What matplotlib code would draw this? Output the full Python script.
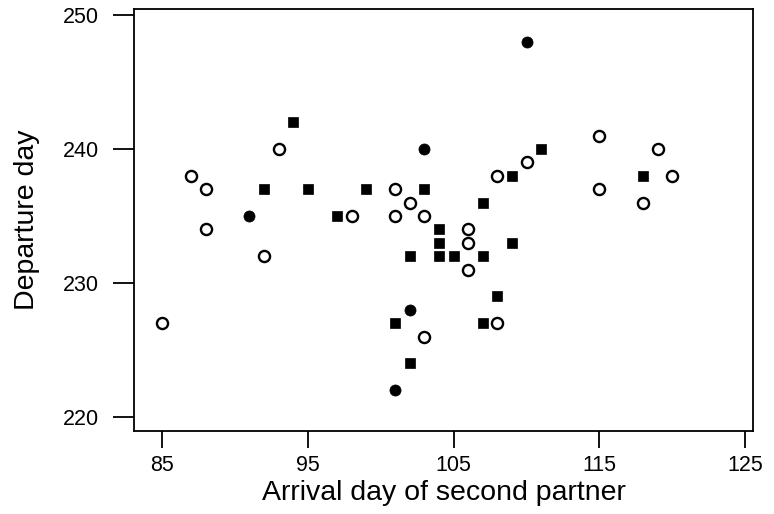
import matplotlib
matplotlib.use("Agg")
import matplotlib.pyplot as plt

# Open circles
open_x = [85, 87, 88, 88, 92, 93, 98, 101, 101, 102, 103, 103, 106, 106, 106,
          108, 108, 110, 115, 115, 118, 119, 120]
open_y = [227, 238, 237, 234, 232, 240, 235, 237, 235, 236, 235, 226, 234, 233, 231,
          238, 227, 239, 241, 237, 236, 240, 238]

# Filled squares
sq_x = [92, 94, 95, 97, 99, 101, 102, 102, 103, 104, 104, 104, 105,
        107, 107, 107, 108, 109, 109, 111, 118]
sq_y = [237, 242, 237, 235, 237, 227, 232, 224, 237, 234, 233, 232, 232,
        236, 232, 227, 229, 238, 233, 240, 238]

# Filled circles (overlapping / larger filled marks)
fc_x = [91, 101, 102, 103, 110]
fc_y = [235, 222, 228, 240, 248]

xticks = [85, 95, 105, 115, 125]
yticks = [220, 230, 240, 250]

plt.rcParams['font.family'] = ['Liberation Sans', 'DejaVu Sans']

fig = plt.figure(figsize=(7.74, 5.14), dpi=100)
ax = fig.add_axes([134/774, 1-431/514, 619/774, 422/514])

ax.plot(open_x, open_y, 'o', mfc='white', mec='black', ms=8, mew=1.7, ls='none')
ax.plot(sq_x, sq_y, 's', mfc='black', mec='black', ms=6.8, mew=0.5, ls='none')
ax.plot(fc_x, fc_y, 'o', mfc='black', mec='black', ms=8, mew=0.5, ls='none')

ax.set_xlim(83.08, 125.53)
ax.set_ylim(218.96, 250.45)
ax.set_xticks(xticks)
ax.set_yticks(yticks)
ax.tick_params(axis='x', direction='out', length=12, width=1.3, labelsize=15.5, pad=5)
ax.tick_params(axis='y', direction='out', length=15, width=1.3, labelsize=15.5, pad=10)
for s in ax.spines.values():
    s.set_linewidth(1.3)

ax.set_xlabel('Arrival day of second partner', fontsize=20.5, labelpad=3)
ax.set_ylabel('Departure day', fontsize=20.5, labelpad=17)

fig.savefig('out.png', dpi=100)
